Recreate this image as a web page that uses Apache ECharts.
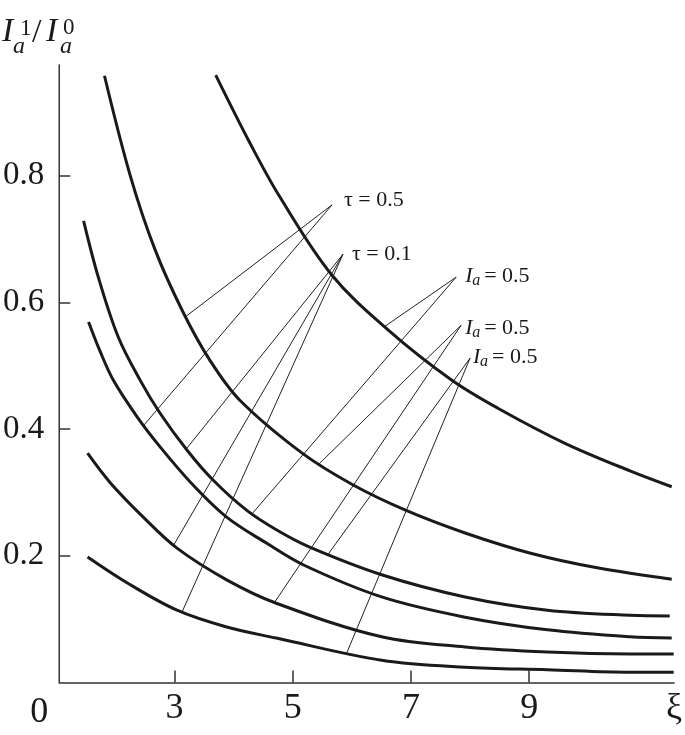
<!DOCTYPE html>
<html>
<head>
<meta charset="utf-8">
<style>
  html, body { margin: 0; padding: 0; background: #fff; }
  #main { width: 685px; height: 735px; }
</style>
<script src="https://cdn.jsdelivr.net/npm/echarts@6/dist/echarts.min.js"></script>
</head>
<body>
<div id="main"></div>
<script>
// 曲线数据 [ξ, I_a^1/I_a^0]
const curveA = [[3.697, 0.959], [4.269, 0.853], [4.773, 0.768], [5.664, 0.643], [6.622, 0.556],
  [7.681, 0.478], [8.471, 0.433], [9.597, 0.378], [10.706, 0.334], [11.412, 0.309]]
const curveB = [[1.815, 0.958], [2.252, 0.800], [2.672, 0.683], [3.143, 0.585], [3.597, 0.509],
  [4.101, 0.446], [5.160, 0.362], [6.000, 0.313], [6.908, 0.272], [7.916, 0.236], [9.025, 0.204],
  [10.151, 0.181], [11.412, 0.163]]
const curveC = [[1.462, 0.729], [1.714, 0.639], [2.050, 0.545], [2.420, 0.477], [2.756, 0.425],
  [3.210, 0.367], [3.647, 0.320], [4.218, 0.272], [4.723, 0.241], [5.277, 0.214], [6.504, 0.170],
  [7.916, 0.135], [9.311, 0.114], [10.706, 0.106], [11.378, 0.105]]
const curveD = [[1.546, 0.569], [1.731, 0.525], [1.966, 0.477], [2.370, 0.419], [2.756, 0.372],
  [3.311, 0.312], [3.882, 0.261], [4.555, 0.220], [5.193, 0.185], [6.504, 0.135], [7.916, 0.103],
  [9.311, 0.083], [10.706, 0.072], [11.412, 0.070]]
const curveE = [[1.529, 0.362], [1.916, 0.315], [2.471, 0.261], [3.042, 0.212], [3.882, 0.162],
  [4.723, 0.125], [6.504, 0.072], [7.916, 0.056], [9.311, 0.048], [10.706, 0.045], [11.445, 0.045]]
const curveF = [[1.529, 0.198], [2.202, 0.157], [3.042, 0.114], [3.882, 0.0875], [4.723, 0.070],
  [6.504, 0.035], [7.916, 0.024], [9.311, 0.020], [10.706, 0.016], [11.445, 0.016]]

// 刻度
const xTicks = [3, 5, 7, 9]
const yTicks = [0.2, 0.4, 0.6, 0.8]

// 标注：引线尖端、引线终点、文字
const noteText = ['τ = 0.5', 'τ = 0.1', 'Ia', 'Ia', 'Ia']
const noteTips = [[5.664, 0.754], [5.849, 0.676], [7.765, 0.640], [7.849, 0.564], [8.000, 0.512]]
const noteEnds = [
  [[3.193, 0.578], [2.471, 0.405]],
  [[3.210, 0.370], [2.975, 0.215], [3.126, 0.111]],
  [[6.555, 0.562], [4.319, 0.267]],
  [[5.445, 0.345], [4.689, 0.126]],
  [[5.580, 0.200], [5.916, 0.047]]
]

const serif = 'Liberation Serif, Times New Roman, serif'
const ink = '#1a1a1a'
const X_MAX = 11.45

let myChart = echarts.init(document.getElementById('main'))

// 引线数据
let leaderData = []
noteTips.forEach(function (tip, i) {
  noteEnds[i].forEach(function (end) {
    leaderData.push({ coords: [tip, end] })
  })
})

function curveSeries(data) {
  return {
    type: 'line',
    data: data,
    smooth: 0.35,
    showSymbol: false,
    silent: true,
    lineStyle: { color: ink, width: 3 }
  }
}

let option = {
  animation: false,
  backgroundColor: '#fff',
  grid: {
    left: 58,
    top: 65,
    right: 8,
    bottom: 52.6
  },
  xAxis: {
    type: 'value',
    min: 1.05,
    max: X_MAX,
    axisLine: { lineStyle: { color: '#333', width: 1.5 } },
    axisTick: {
      inside: true,
      length: 12,
      customValues: xTicks,
      lineStyle: { color: '#333', width: 1.5 }
    },
    axisLabel: {
      customValues: xTicks.concat([X_MAX]),
      margin: 8,
      fontFamily: serif,
      fontSize: 36,
      color: ink,
      formatter: function (v) {
        return v === X_MAX ? 'ξ' : String(v)
      }
    },
    splitLine: { show: false }
  },
  yAxis: {
    type: 'value',
    min: 0,
    max: 0.975,
    axisLine: { show: true, lineStyle: { color: '#333', width: 1.5 } },
    axisTick: {
      show: true,
      inside: true,
      length: 11,
      customValues: yTicks,
      lineStyle: { color: '#333', width: 1.5 }
    },
    axisLabel: {
      customValues: yTicks,
      margin: 15,
      fontFamily: serif,
      fontSize: 33,
      color: ink,
      formatter: function (v) {
        return v.toFixed(1)
      }
    },
    splitLine: { show: false }
  },
  series: [
    curveSeries(curveA),
    curveSeries(curveB),
    curveSeries(curveC),
    curveSeries(curveD),
    curveSeries(curveE),
    curveSeries(curveF),
    {
      // 标注引线
      type: 'lines',
      coordinateSystem: 'cartesian2d',
      silent: true,
      lineStyle: { color: '#222', width: 1, opacity: 1 },
      data: leaderData
    }
  ]
}

myChart.setOption(option)

// 文字（标题、原点、标注），位置由坐标系换算
function txt(x, y, s, size, italic, align) {
  return {
    type: 'text',
    x: x,
    y: y,
    silent: true,
    style: {
      text: s,
      fill: ink,
      fontFamily: serif,
      fontSize: size,
      fontStyle: italic ? 'italic' : 'normal',
      align: align || 'left',
      verticalAlign: 'middle'
    }
  }
}

let graphics = [
  // 纵轴标题 I_a^1 / I_a^0
  txt(2, 32, 'I', 34, true),
  txt(13, 47, 'a', 24, true),
  txt(20, 29, '1', 23, false),
  txt(32, 33, '/', 34, false),
  txt(46, 32, 'I', 34, true),
  txt(60, 47, 'a', 24, true),
  txt(63, 28, '0', 23, false)
]

// 原点 0
let origin = myChart.convertToPixel({ gridIndex: 0 }, [1.05, 0])
graphics.push(txt(origin[0] - 20, origin[1] + 30, '0', 36, false, 'center'))

const noteOffsets = [[12, -5], [9, 0], [9, -1], [4, 3], [3, -1]]
noteTips.forEach(function (tip, i) {
  let p = myChart.convertToPixel({ gridIndex: 0 }, tip)
  let x = p[0] + noteOffsets[i][0]
  let y = p[1] + noteOffsets[i][1]
  if (noteText[i] === 'Ia') {
    graphics.push(txt(x, y, 'I', 22, true))
    graphics.push(txt(x + 7, y + 5, 'a', 16, true))
    graphics.push(txt(x + 19, y, '= 0.5', 22, false))
  } else {
    graphics.push(txt(x, y, noteText[i], 22, false))
  }
})

myChart.setOption({ graphic: graphics })

window.addEventListener('resize', function () {
  myChart.resize()
})
</script>
</body>
</html>
